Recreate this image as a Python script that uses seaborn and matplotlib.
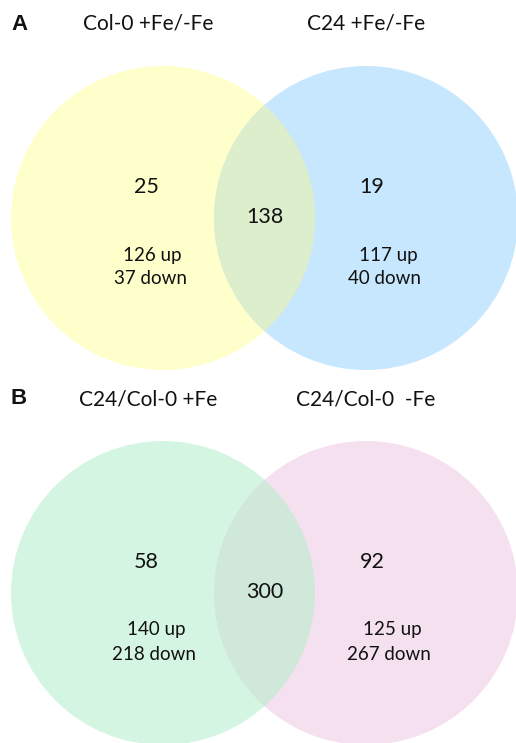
import matplotlib
matplotlib.use("Agg")
import matplotlib.pyplot as plt
from matplotlib.patches import Circle
import seaborn as sns

# ---- data ----
panel_letters = ["A", "B"]
set_names = [["Col-0 +Fe/-Fe", "C24 +Fe/-Fe"], ["C24/Col-0 +Fe", "C24/Col-0  -Fe"]]
only_counts = [[25, 19], [58, 92]]
shared_counts = [138, 300]
up_counts = [[126, 117], [140, 125]]
down_counts = [[37, 40], [218, 267]]
fill_colors = [["#FFFFCC", "#C6E7FD"], ["#D5F5E3", "#F5E0F0"]]
overlap_colors = ["#DDEECC", "#CFE8DA"]

sns.set_theme(style="white")
plt.rcParams['font.family'] = ['Lato', 'DejaVu Sans']

fig = plt.figure(figsize=(5.16, 7.43), dpi=100)
ax = fig.add_axes([0, 0, 1, 1])
ax.set_xlim(0, 516)
ax.set_ylim(743, 0)
ax.set_axis_off()

R = 152
cx = [163, 366]
cy_list = [218, 593]
txt = "#111111"
for p in range(2):
    cy = cy_list[p]
    top = cy - 194
    c_left = Circle((cx[0], cy), R, facecolor=fill_colors[p][0], edgecolor="none", zorder=1)
    c_right = Circle((cx[1], cy), R, facecolor=fill_colors[p][1], edgecolor="none", zorder=1)
    ax.add_patch(c_left)
    ax.add_patch(c_right)
    lens = Circle((cx[1], cy), R, facecolor=overlap_colors[p], edgecolor="none", zorder=2)
    ax.add_patch(lens)
    lens.set_clip_path(c_left)

    ax.text(19, top, panel_letters[p], fontsize=16, fontweight="bold", ha="center", va="center",
            color=txt, family=['Liberation Sans', 'DejaVu Sans'])
    ax.text(148, top, set_names[p][0], fontsize=15, ha="center", va="center", color=txt)
    ax.text(366, top, set_names[p][1], fontsize=15, ha="center", va="center", color=txt)

    ax.text(146, cy - 31, str(only_counts[p][0]), fontsize=15.5, ha="center", va="center", color=txt)
    ax.text(372, cy - 31, str(only_counts[p][1]), fontsize=15.5, ha="center", va="center", color=txt)
    ax.text(265, cy - 1, str(shared_counts[p]), fontsize=15.5, ha="center", va="center", color=txt)

    dx = 0 if p == 0 else 4
    ax.text(152 + dx, cy + 37, f"{up_counts[p][0]} up", fontsize=13.5, ha="center", va="center", color=txt)
    ax.text(150 + dx, cy + 61, f"{down_counts[p][0]} down", fontsize=13.5, ha="center", va="center", color=txt)
    ax.text(388 + dx, cy + 37, f"{up_counts[p][1]} up", fontsize=13.5, ha="center", va="center", color=txt)
    ax.text(385 + dx, cy + 61, f"{down_counts[p][1]} down", fontsize=13.5, ha="center", va="center", color=txt)

fig.savefig("out.png", dpi=100)
